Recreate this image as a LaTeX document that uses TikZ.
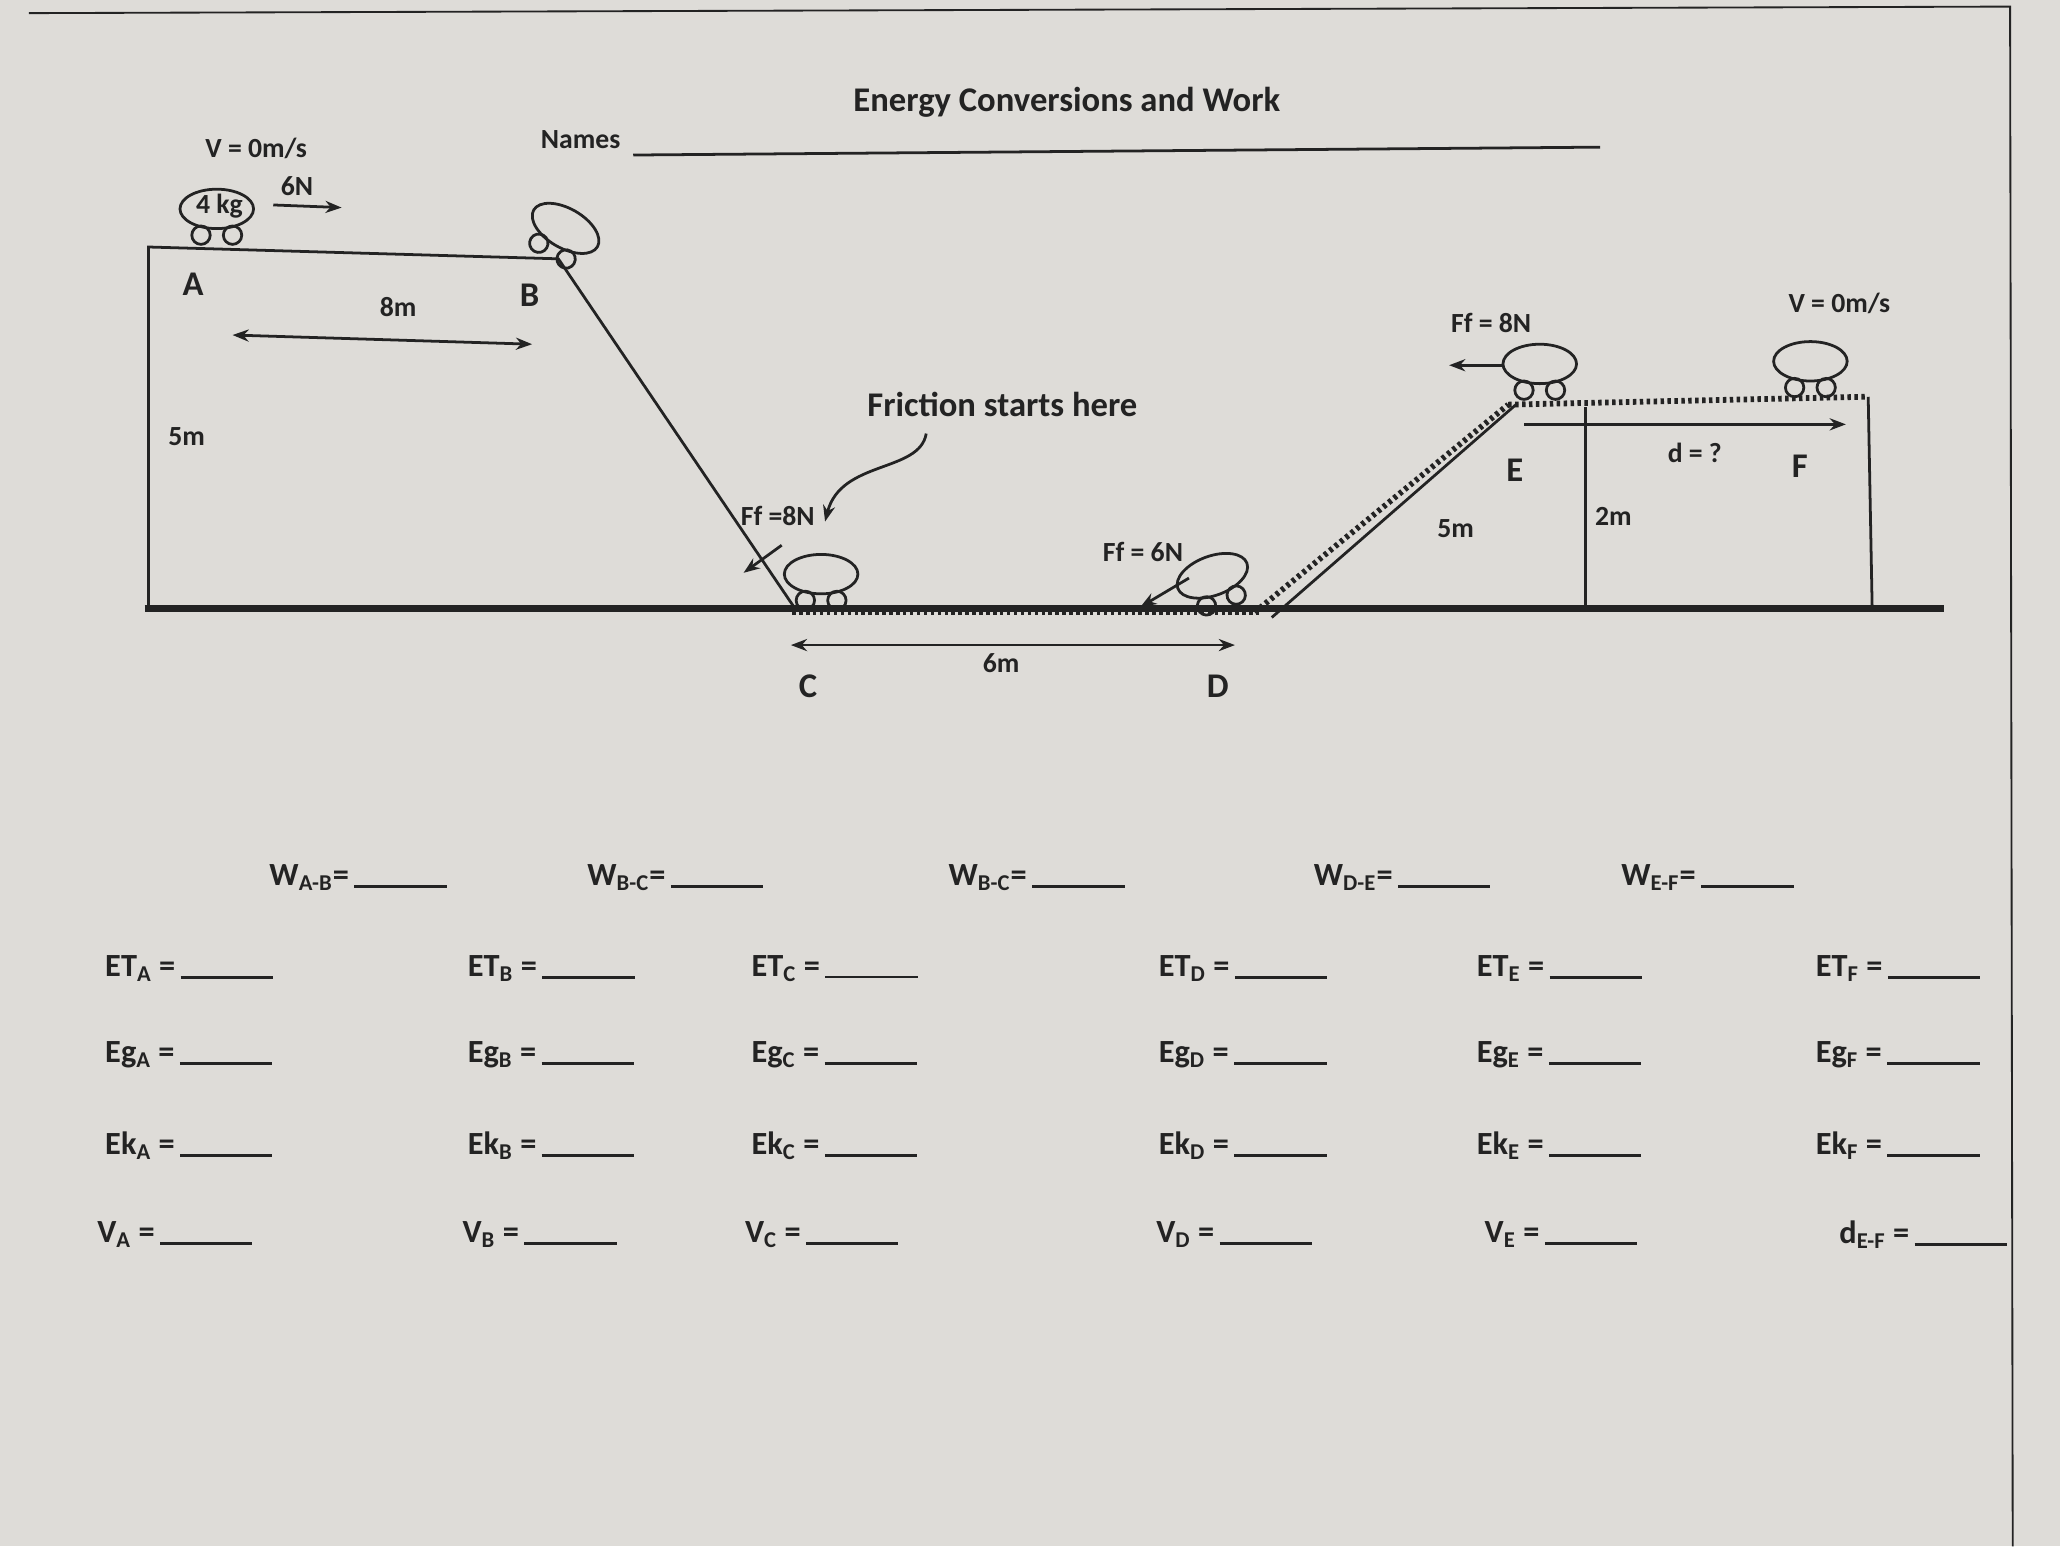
\documentclass[tikz,border=0pt]{standalone}
\usepackage{fontspec}
\setmainfont{Carlito}
\usetikzlibrary{arrows.meta,decorations.pathmorphing}
\definecolor{paper}{RGB}{222,220,216}
\definecolor{ink}{RGB}{35,35,35}
\tikzset{
 lbl/.style={font=\bfseries\fontsize{12}{14}\selectfont, text=ink, inner sep=1pt},
 big/.style={font=\bfseries\fontsize{15}{17}\selectfont, text=ink, inner sep=1pt},
 eq/.style={font=\bfseries\fontsize{14}{16}\selectfont, text=ink, inner sep=1pt, anchor=west},
 ln/.style={draw=ink, line width=1.2pt},
 arr/.style={draw=ink, line width=1.2pt, -{Stealth[length=7pt]}},
 darr/.style={draw=ink, line width=1.2pt, {Stealth[length=7pt]}-{Stealth[length=7pt]}},
 dots/.style={draw=ink, line width=2.5pt, dash pattern=on 1.5pt off 1.5pt},
 pics/cart/.style={code={
   \draw[ln] (0,-21) ellipse (28 and 15);
   \draw[ln] (-12,-1) circle (7); \draw[ln] (12,-1) circle (7);}}
}
\begin{document}
\begin{tikzpicture}[x=0.02cm,y=-0.02cm]
\fill[paper] (0,0) rectangle (1568,1177);
\useasboundingbox (0,0) rectangle (1568,1177);
\draw[ink, line width=0.8pt] (22,10) -- (1530,5) -- (1532,1177);
\node[big] (title) at (812,78) {Energy Conversions and Work};
\node[lbl] (names) at (442,106) {Names};
\coordinate (n1) at (482,118); \coordinate (n2) at (1218,112);
\draw[ln] (n1) -- (n2);
% ground
\coordinate (g1) at (110,463); \coordinate (g2) at (1480,463);
\draw[draw=ink, line width=3pt] (g1) -- (g2);
% left platform
\coordinate (pA0) at (113,463); \coordinate (pA) at (113,188); \coordinate (pB) at (425,197); \coordinate (pC) at (605,463);
\draw[ln] (pA0) -- (pA) -- (pB) -- (pC);
\node[big] (A) at (147,216) {A};
\node[big] (B) at (403,225) {B};
\node[lbl] (m8) at (303,234) {8m};
\coordinate (a8l) at (177,255); \coordinate (a8r) at (405,262);
\draw[darr] (a8l) -- (a8r);
\node[lbl] (m5a) at (142,332) {5m};
% cart A
\pic at (165,180) {cart};
\node[lbl] (kg) at (167,157) {4 kg};
\node[lbl] (vA) at (195,113) {V = 0m/s};
\node[lbl] (f6) at (226,142) {6N};
\coordinate (f6a) at (208,156); \coordinate (f6b) at (260,158);
\draw[arr] (f6a) -- (f6b);
% cart B
\pic[rotate=-30] at (420,192) {cart};
% C
\pic at (625,458) {cart};
\node[lbl] (ff8) at (592,393) {Ff =8N};
\coordinate (c1) at (595,415); \coordinate (c2) at (566,436);
\draw[arr] (c1) -- (c2);
\node[big] (fsh) at (763,308) {Friction starts here};
\coordinate (fs1) at (705,330); \coordinate (fs2) at (628,397);
\draw[arr] (fs1) .. controls (700,360) and (640,350) .. (fs2);
\coordinate (d1) at (603,466); \coordinate (d2) at (958,466);
\draw[dots] (d1) -- (d2);
\coordinate (a6l) at (602,491); \coordinate (a6r) at (940,491);
\draw[darr] (a6l) -- (a6r);
\node[lbl] (m6) at (762,505) {6m};
\node[big] (C) at (615,522) {C};
\node[big] (D) at (927,522) {D};
% D
\pic[rotate=20] at (930,458) {cart};
\node[lbl] (ff6) at (870,420) {Ff = 6N};
\coordinate (e1) at (905,440); \coordinate (e2) at (868,462);
\draw[arr] (e1) -- (e2);
% ramp
\coordinate (r1) at (968,470); \coordinate (r2) at (1155,307);
\draw[ln] (r1) -- (r2);
\coordinate (r3) at (955,466); \coordinate (r4) at (1148,308);
\draw[dots] (r3) -- (r4);
\coordinate (t2) at (1420,302);
\draw[dots] (r4) -- (t2);
\coordinate (t3) at (1425,462);
\draw[ln] (1422,302) -- (t3);
\coordinate (v1) at (1207,310); \coordinate (v2) at (1207,462);
\draw[ln] (v1) -- (v2);
\node[big] (E) at (1153,358) {E};
\node[big] (F) at (1370,355) {F};
\node[lbl] (m2) at (1228,393) {2m};
\node[lbl] (m5b) at (1108,402) {5m};
\node[lbl] (dq) at (1290,345) {d = ?};
\coordinate (dd1) at (1160,323); \coordinate (dd2) at (1405,323);
\draw[arr] (dd1) -- (dd2);
\node[lbl] (vF) at (1400,231) {V = 0m/s};
\pic at (1172,298) {cart};
\node[lbl] (ff8e) at (1135,246) {Ff = 8N};
\coordinate (h1) at (1145,278); \coordinate (h2) at (1103,278);
\draw[arr] (h1) -- (h2);
\pic at (1378,296) {cart};
% table
\newcommand{\blank}[1]{#1\,\rule[-1pt]{40pt}{1.2pt}}
\node[eq] (w1) at (203,668) {\blank{W\textsubscript{A-B}=}};
\node[eq] (w2) at (445,668) {\blank{W\textsubscript{B-C}=}};
\node[eq] (w3) at (720,668) {\blank{W\textsubscript{B-C}=}};
\node[eq] (w4) at (998,668) {\blank{W\textsubscript{D-E}=}};
\node[eq] (w5) at (1232,668) {\blank{W\textsubscript{E-F}=}};
\foreach \x/\L [count=\i] in {78/A,354/B,570/C,880/D,1122/E,1380/F}{
  \node[eq] (et\i) at (\x,737) {\blank{ET\textsubscript{\L} =}};
  \node[eq] (eg\i) at (\x,803) {\blank{Eg\textsubscript{\L} =}};
  \node[eq] (ek\i) at (\x,872) {\blank{Ek\textsubscript{\L} =}};
}
\foreach \x/\L [count=\i] in {72/A,350/B,565/C,878/D,1128/E}{
  \node[eq] (v\i) at (\x,940) {\blank{V\textsubscript{\L} =}};
}
\node[eq] (def) at (1398,940) {\blank{d\textsubscript{E-F} =}};
\end{tikzpicture}
\end{document}
